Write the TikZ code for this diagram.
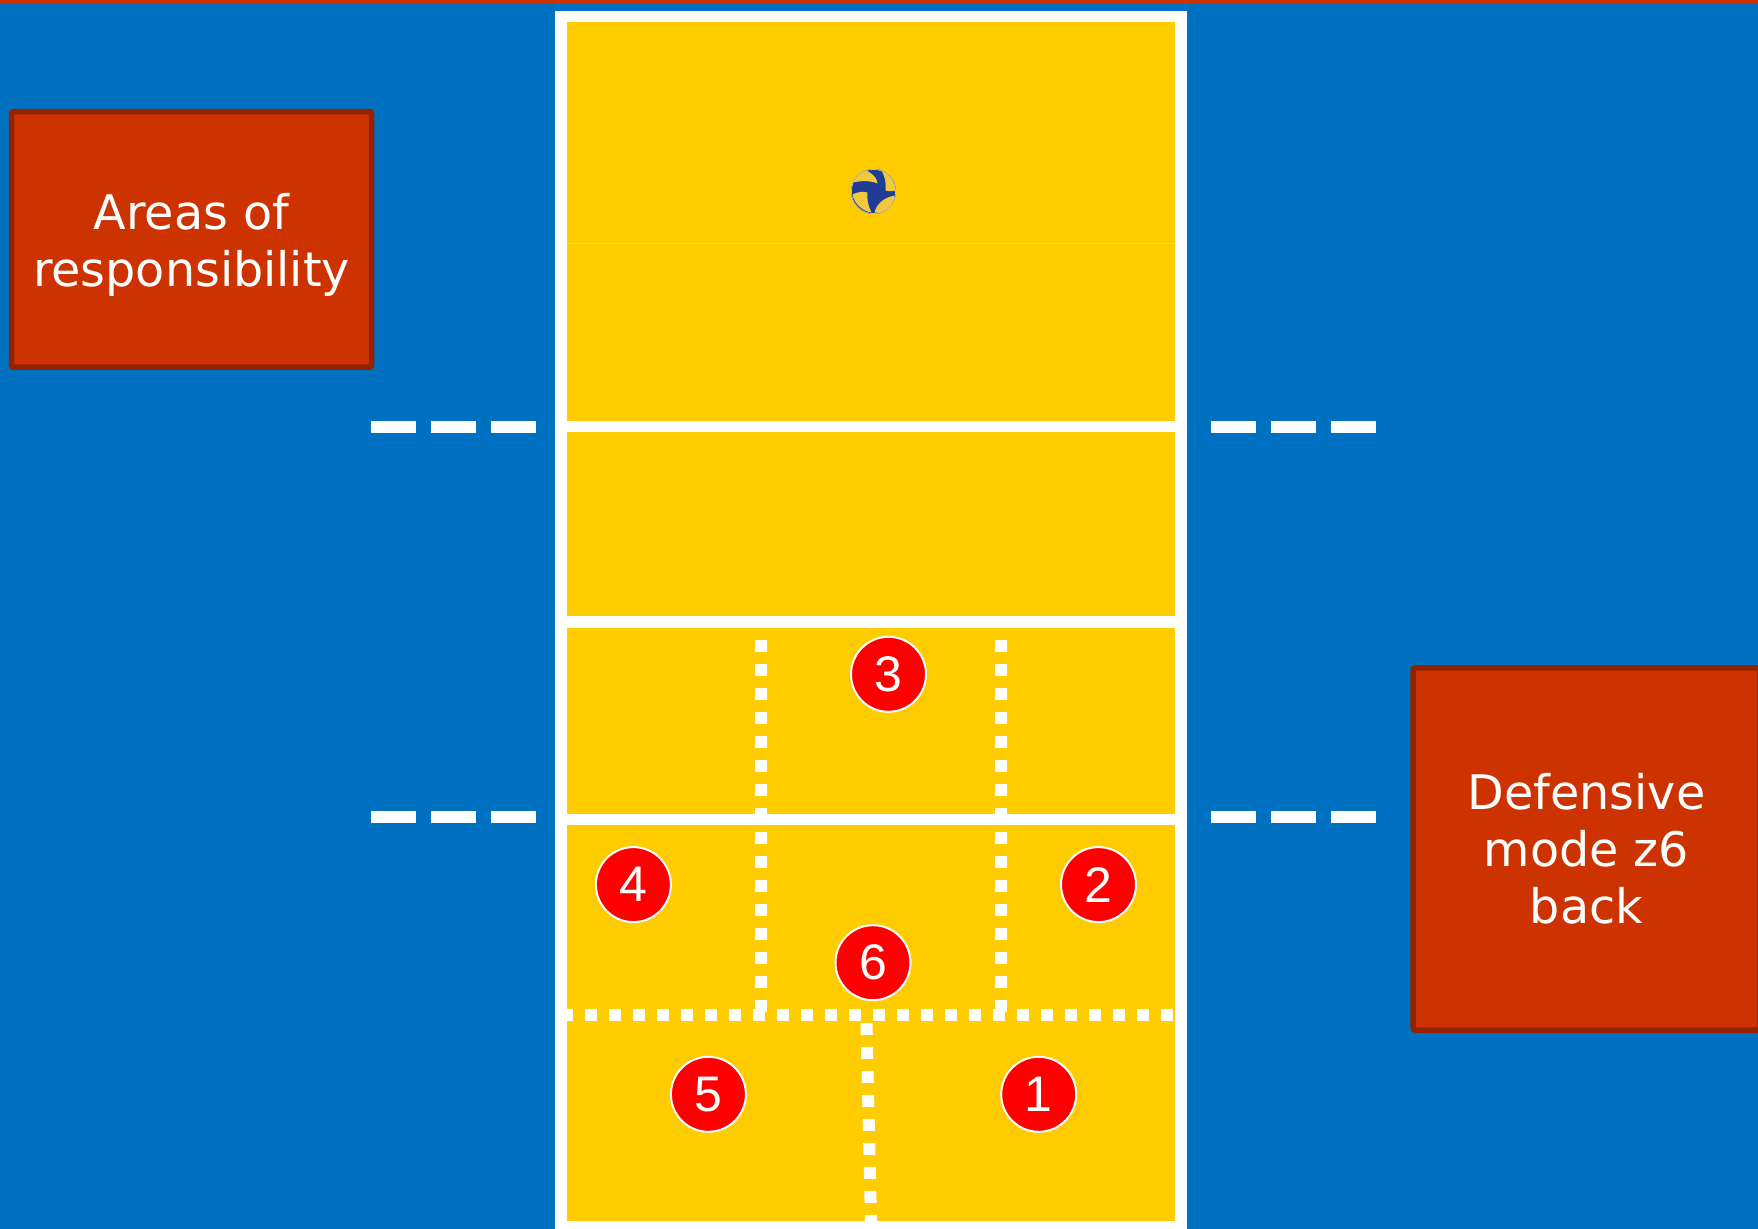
\documentclass[tikz,border=0pt]{standalone}
\usepackage{fontspec}
\setmainfont{DejaVu Sans}
\newfontfamily\digitfont{Liberation Sans}
\definecolor{floorblue}{HTML}{0070C0}
\definecolor{courtyellow}{HTML}{FFCC00}
\definecolor{courtlight}{HTML}{FFD633}
\definecolor{boxred}{HTML}{CC3300}
\definecolor{boxedge}{HTML}{942200}
\definecolor{ballblue}{HTML}{1F3C96}
\definecolor{ballyellow}{HTML}{F2C83C}
\tikzset{
	courtline/.style={draw=white, line width=5.75pt},
	sideline/.style={white, line width=5.75pt, dash pattern=on 22.5pt off 7.5pt},
	zoneline/.style={white, line width=6pt, dash pattern=on 6pt off 6pt},
	player/.style={circle, draw=white, line width=1pt, fill=red, text=white, minimum size=37.5pt, inner sep=0pt, font=\digitfont\fontsize{25}{25}\selectfont},
	infobox/.style={draw=boxedge, fill=boxred, line width=2.75pt, rounded corners=1pt, text=white, align=center, inner sep=0pt, font=\fontsize{23.8}{28.5}\selectfont},
	ballpanel/.style={fill=ballyellow}
}
\begin{document}
\begin{tikzpicture}[x=0.5pt, y=-0.5pt]
		\useasboundingbox (0,0) rectangle (1758,1229);
		\fill [floorblue] (0,0) rectangle (1758,1229);
		\fill [boxred] (0,0) rectangle (1758,3);
		\fill [courtyellow] (561,17) rectangle (1181,1227);
		\draw [courtlight, line width=0.75pt] (567,243.5) -- (1175,243.5);
		\draw [zoneline] (761,640) -- (761,1012);
		\draw [zoneline] (1001,640) -- (1001,1012);
		\draw [zoneline] (561,1015.3) -- (1173,1015.3);
		\draw [zoneline] (866.5,1023) -- (871,1222);
		\draw [courtline] (561,16.5) rectangle (1181,1227);
		\draw [courtline] (561,426.5) -- (1181,426.5);
		\draw [courtline] (561,622) -- (1181,622);
		\draw [courtline] (561,819.5) -- (1181,819.5);
		\draw [sideline] (371,427) -- (536,427);
		\draw [sideline] (1211,427) -- (1376,427);
		\draw [sideline] (371,817) -- (536,817);
		\draw [sideline] (1211,817) -- (1376,817);
		\node [infobox, minimum width=180pt, minimum height=127.75pt] (areas) at (191.5,239.5) {\rule{0pt}{23pt}Areas of\\responsibility};
		\node [infobox, minimum width=173.5pt, minimum height=181pt] (mode) at (1586.5,849) {Defensive\\mode z6\\back};
		\node [player] (p1) at (1038.7,1094.3) {1};
		\node [player] (p2) at (1098.5,884.6) {2};
		\node [player] (p3) at (888.5,674.3) {3};
		\node [player] (p4) at (633.4,884.6) {4};
		\node [player] (p5) at (708.4,1094.3) {5};
		\node [player] (p6) at (873,962.7) {6};
		\begin{scope}[shift={(873.5,191.5)}]
			\fill [ballblue] (0,0) circle (22.5);
			\clip (0,0) circle (22.5);
			\fill [ballpanel] (-21,-9) .. controls (-17,-17) and (-11,-21) .. (-7,-21) .. controls (-1,-18) and (4,-13) .. (4,-8) .. controls (-3,-11) and (-12,-11) .. (-21,-9);
			\fill [ballpanel] (8,-21) .. controls (15,-18) and (21,-11) .. (22,-1) .. controls (19,0) and (15,0) .. (12,-1) .. controls (13,-9) and (11,-16) .. (8,-21);
			\fill [ballpanel] (-21,3) .. controls (-16,0) and (-10,0) .. (-6,1) .. controls (-7,8) and (-5,15) .. (-2,21) .. controls (-10,20) and (-19,13) .. (-21,3);
			\fill [ballpanel] (1,21) .. controls (3,12) and (11,6) .. (21,4) .. controls (21,11) and (17,17) .. (13,19) .. controls (9,21) and (5,22) .. (1,21);
			\draw [ballblue!35!white, line width=0.75pt] (0,0) circle (22.5);
		\end{scope}
	\end{tikzpicture}
\end{document}
